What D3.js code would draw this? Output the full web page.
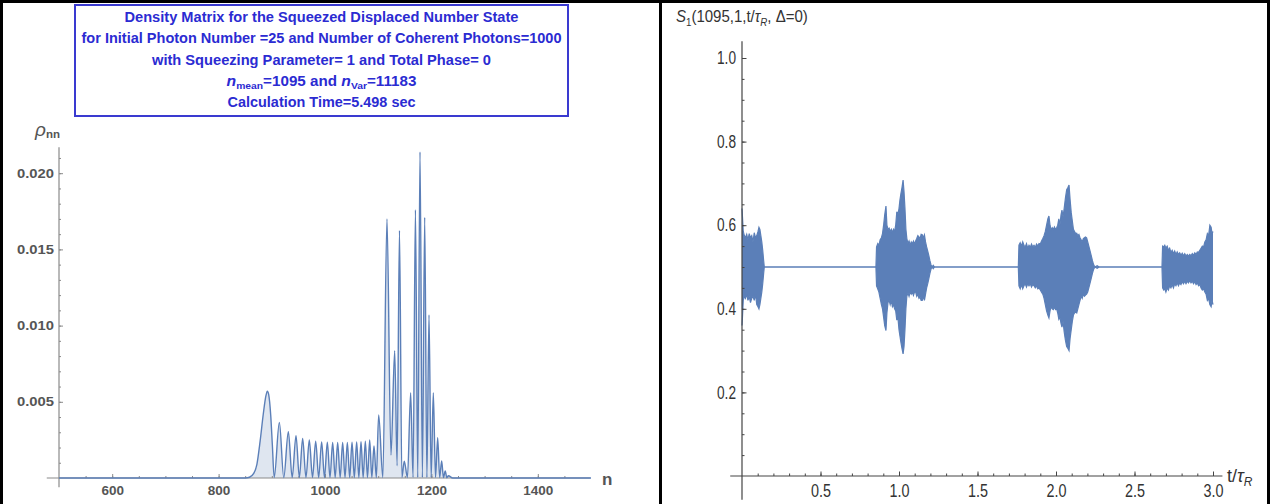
<!DOCTYPE html>
<html><head><meta charset="utf-8">
<script src="https://cdn.jsdelivr.net/npm/d3@7"></script>
<style>body{margin:0;background:#fff}svg{display:block}</style>
</head><body>
<svg id="c" width="1270" height="504"></svg>
<script>
// ---------- DATA ----------
const titleLines = [
  "Density Matrix for the Squeezed Displaced Number State",
  "for Initial Photon Number =25 and Number of Coherent Photons=1000",
  "with Squeezing Parameter= 1 and Total Phase= 0",
  "nmean=1095 and nVar=11183",
  "Calculation Time=5.498 sec"
];
// photon-number distribution rho_nn (peaks and troughs)
const rhoN = [500, 850, 858, 866, 872, 878, 884, 889, 891.6, 894, 898, 901, 904.5,
  914.2, 922.5, 931.1, 938.3, 945.5, 951.8, 958, 964.2, 970.5, 976.5, 982.5, 988.1, 993.7, 999,
  1004.4, 1009.4, 1014.4, 1019.1, 1023.8, 1028.5, 1033.2, 1037.6, 1042, 1046.4, 1050.8, 1055.1,
  1059.5, 1063.6, 1067.7, 1071.7, 1075.8, 1079.9, 1084, 1088, 1092.1, 1096.5, 1100.9,
  1108.7, 1116.5, 1124, 1131, 1135.5, 1140, 1144.5, 1149, 1155, 1161, 1165.5, 1170, 1174.3,
  1178.6, 1183, 1187.4, 1191.5, 1195.5, 1199.5, 1203.6, 1207.7, 1211.8, 1215.5, 1219.3,
  1222.6, 1226, 1229, 1232, 1240, 1500];
const rhoVal = [0, 0, 0.00005, 0.0003, 0.0009, 0.0024, 0.0042, 0.0054, 0.0057, 0.0055, 0.0041, 0.0022, 0.00003,
  0.00365, 0.00003, 0.00304, 0.00003, 0.00278, 0.00003, 0.0026, 0.00003, 0.00249, 0.00003, 0.00241, 0.00003, 0.00237, 0.00003,
  0.00235, 0.00003, 0.00234, 0.00003, 0.00234, 0.00003, 0.00234, 0.00003, 0.00234, 0.00003, 0.00235, 0.00003,
  0.00236, 0.00003, 0.00238, 0.00003, 0.00241, 0.00003, 0.00249, 0.00003, 0.0021, 0.00003, 0.00413,
  0.00003, 0.0170, 0.0015, 0.00835, 0.0008, 0.01625, 0.00003, 0.0011, 0.00003, 0.0056, 0.00003, 0.0176, 0.00003,
  0.0214, 0.00003, 0.0171, 0.00003, 0.0107, 0.00003, 0.0056, 0.00003, 0.00265, 0.00003, 0.00112,
  0.00003, 0.00046, 0.00002, 0.00015, 0, 0];
const leftXTicks = [600, 800, 1000, 1200, 1400];
const leftYTicks = [0.005, 0.010, 0.015, 0.020];
const leftYTickLabels = ["0.005", "0.010", "0.015", "0.020"];

// S1(t) oscillation envelope: [t, upper, lower]
const burstA = [[0,0.64,0.36],[0.003,0.62,0.38],[0.008,0.585,0.42],[0.015,0.575,0.43],[0.022,0.57,0.425],
  [0.03,0.578,0.435],[0.038,0.565,0.42],[0.046,0.58,0.43],[0.054,0.57,0.415],[0.062,0.575,0.425],
  [0.07,0.56,0.43],[0.078,0.582,0.42],[0.086,0.57,0.435],[0.094,0.575,0.41],[0.102,0.585,0.405],
  [0.108,0.595,0.40],[0.114,0.59,0.41],[0.12,0.575,0.425],[0.126,0.56,0.44],[0.132,0.54,0.46],
  [0.138,0.515,0.485],[0.142,0.5,0.5]];
const burstB = [[0.853,0.5,0.5],[0.857,0.548,0.455],[0.865,0.556,0.447],[0.872,0.552,0.44],[0.88,0.565,0.425],
  [0.888,0.57,0.41],[0.895,0.58,0.40],[0.902,0.60,0.38],[0.909,0.625,0.36],[0.917,0.646,0.348],
  [0.923,0.60,0.39],[0.93,0.59,0.415],[0.937,0.593,0.42],[0.944,0.585,0.41],[0.951,0.59,0.42],
  [0.958,0.582,0.405],[0.965,0.59,0.41],[0.972,0.585,0.40],[0.979,0.60,0.395],[0.986,0.632,0.373],
  [0.993,0.625,0.38],[1.0,0.64,0.35],[1.006,0.66,0.335],[1.012,0.675,0.32],[1.019,0.69,0.305],
  [1.026,0.708,0.292],[1.032,0.68,0.31],[1.038,0.64,0.35],[1.044,0.59,0.40],[1.05,0.568,0.43],
  [1.057,0.556,0.438],[1.064,0.562,0.43],[1.071,0.553,0.44],[1.078,0.56,0.435],[1.085,0.555,0.44],
  [1.092,0.562,0.432],[1.099,0.555,0.44],[1.106,0.562,0.44],[1.113,0.568,0.43],[1.12,0.575,0.435],
  [1.127,0.572,0.425],[1.134,0.567,0.428],[1.141,0.578,0.42],[1.148,0.577,0.42],[1.155,0.57,0.43],
  [1.162,0.577,0.42],[1.169,0.56,0.435],[1.176,0.548,0.45],[1.183,0.538,0.46],[1.19,0.527,0.472],
  [1.197,0.515,0.485],[1.204,0.505,0.495],[1.21,0.5,0.5],[1.218,0.504,0.496],[1.226,0.5,0.5]];
const burstC = [[1.76,0.5,0.5],[1.764,0.552,0.455],[1.772,0.558,0.448],[1.78,0.55,0.458],[1.788,0.56,0.448],
  [1.796,0.552,0.455],[1.804,0.548,0.46],[1.812,0.556,0.452],[1.82,0.545,0.46],[1.828,0.552,0.455],
  [1.836,0.547,0.46],[1.844,0.555,0.452],[1.852,0.548,0.458],[1.86,0.552,0.455],[1.868,0.547,0.45],
  [1.876,0.555,0.455],[1.884,0.55,0.448],[1.892,0.556,0.45],[1.9,0.555,0.445],[1.908,0.562,0.44],
  [1.916,0.568,0.435],[1.924,0.575,0.425],[1.932,0.585,0.41],[1.94,0.60,0.395],[1.948,0.615,0.385],
  [1.955,0.622,0.378],[1.962,0.60,0.395],[1.969,0.588,0.405],[1.976,0.594,0.40],[1.983,0.59,0.398],
  [1.99,0.596,0.404],[1.997,0.59,0.398],[2.004,0.594,0.40],[2.011,0.60,0.39],[2.018,0.615,0.375],
  [2.025,0.60,0.38],[2.032,0.625,0.365],[2.038,0.636,0.356],[2.045,0.62,0.37],[2.052,0.64,0.345],
  [2.06,0.665,0.325],[2.068,0.685,0.31],[2.076,0.69,0.305],[2.083,0.696,0.30],[2.09,0.66,0.33],
  [2.097,0.63,0.35],[2.104,0.61,0.37],[2.111,0.59,0.385],[2.118,0.585,0.39],[2.125,0.58,0.392],
  [2.132,0.581,0.39],[2.139,0.575,0.40],[2.146,0.578,0.41],[2.153,0.57,0.42],[2.16,0.565,0.43],
  [2.167,0.56,0.425],[2.174,0.568,0.435],[2.181,0.57,0.43],[2.188,0.572,0.433],[2.195,0.57,0.435],
  [2.202,0.56,0.44],[2.209,0.55,0.45],[2.216,0.54,0.46],[2.224,0.528,0.472],[2.232,0.515,0.485],
  [2.24,0.505,0.495],[2.248,0.5,0.5],[2.262,0.503,0.497],[2.275,0.5,0.5]];
const burstD = [[2.675,0.5,0.5],[2.679,0.55,0.45],[2.686,0.548,0.445],[2.693,0.552,0.448],[2.7,0.545,0.44],
  [2.708,0.55,0.45],[2.716,0.54,0.445],[2.724,0.545,0.455],[2.732,0.535,0.45],[2.74,0.54,0.458],
  [2.748,0.532,0.45],[2.756,0.538,0.46],[2.764,0.53,0.455],[2.772,0.536,0.462],[2.78,0.53,0.455],
  [2.788,0.534,0.462],[2.796,0.528,0.458],[2.804,0.533,0.465],[2.812,0.527,0.46],[2.82,0.532,0.466],
  [2.828,0.526,0.46],[2.836,0.53,0.466],[2.844,0.526,0.462],[2.852,0.53,0.468],[2.86,0.527,0.462],
  [2.868,0.532,0.466],[2.876,0.528,0.46],[2.884,0.534,0.465],[2.892,0.53,0.458],[2.9,0.536,0.462],
  [2.908,0.535,0.455],[2.916,0.54,0.458],[2.924,0.545,0.45],[2.932,0.55,0.445],[2.94,0.548,0.448],
  [2.948,0.56,0.44],[2.956,0.565,0.435],[2.964,0.58,0.42],[2.972,0.575,0.425],[2.98,0.60,0.41],
  [2.988,0.595,0.405],[2.994,0.58,0.42],[3.0,0.585,0.41]];
const rightXTicks = [0.5, 1.0, 1.5, 2.0, 2.5, 3.0];
const rightYTicks = [0.2, 0.4, 0.6, 0.8, 1.0];

// ---------- DRAW ----------
const svg = d3.select("#c");
const blue = "#5b7fb8";
const narrow = "'Liberation Sans Narrow','Arial Narrow','Liberation Sans',Arial,sans-serif";
const sans = "'Liberation Sans',Arial,sans-serif";

// frame lines
svg.append("rect").attr("x",0).attr("y",0).attr("width",1270).attr("height",3).attr("fill","#000");
svg.append("rect").attr("x",0).attr("y",0).attr("width",3).attr("height",504).attr("fill","#000");
svg.append("rect").attr("x",659).attr("y",0).attr("width",3).attr("height",504).attr("fill","#000");
svg.append("rect").attr("x",1267).attr("y",0).attr("width",3).attr("height",504).attr("fill","#000");

// ===== LEFT PANEL =====
const xL = d3.scaleLinear().domain([500, 1400]).range([59, 537.8]);
const yL = d3.scaleLinear().domain([0, 0.02]).range([478, 173.2]);
const rho = rhoN.map((n, i) => ({n, v: rhoVal[i]})).filter(d => d.v !== undefined);

const gL = svg.append("g");
gL.append("path").datum(rho)
  .attr("d", d3.area().x(d => xL(d.n)).y0(yL(0)).y1(d => yL(d.v)).curve(d3.curveMonotoneX))
  .attr("fill", "rgba(94,129,181,0.2)");

const axCol = "#8a8a8a";
gL.append("line").attr("x1", xL(477)).attr("x2", xL(1498)).attr("y1", yL(0)).attr("y2", yL(0))
  .attr("stroke", axCol).attr("stroke-width", 1.2);
gL.append("line").attr("x1", xL(500)).attr("x2", xL(500)).attr("y1", yL(0.0217)).attr("y2", yL(-0.0006))
  .attr("stroke", axCol).attr("stroke-width", 1.2);

function styleAxis(g, col){ g.select(".domain").remove(); g.selectAll("line").attr("stroke", col); }
const lxMinor = gL.append("g").attr("transform", `translate(0,${yL(0)})`)
  .call(d3.axisBottom(xL).tickValues(d3.range(550, 1500, 50)).tickSizeInner(-2).tickSizeOuter(0).tickFormat(""));
styleAxis(lxMinor, axCol);
const lxMajor = gL.append("g").attr("transform", `translate(0,${yL(0)})`)
  .call(d3.axisBottom(xL).tickValues(leftXTicks).tickSizeInner(-4).tickSizeOuter(0).tickPadding(7).tickFormat(d3.format("d")));
styleAxis(lxMajor, axCol);
lxMajor.selectAll("text").attr("font-family", sans).attr("font-weight", "bold").attr("font-size", 13.5).attr("fill", "#555");

const lyMinor = gL.append("g").attr("transform", `translate(${xL(500)},0)`)
  .call(d3.axisLeft(yL).tickValues(d3.range(0.001, 0.0215, 0.001)).tickSizeInner(-2).tickSizeOuter(0).tickFormat(""));
styleAxis(lyMinor, axCol);
const lyMajor = gL.append("g").attr("transform", `translate(${xL(500)},0)`)
  .call(d3.axisLeft(yL).tickValues(leftYTicks).tickSizeInner(-4).tickSizeOuter(0).tickPadding(5)
    .tickFormat((d, i) => leftYTickLabels[i]));
styleAxis(lyMajor, axCol);
lyMajor.selectAll("text").attr("font-family", sans).attr("font-weight", "bold").attr("font-size", 13)
  .attr("fill", "#555").attr("textLength", 37).attr("lengthAdjust", "spacingAndGlyphs");

gL.append("path").datum(rho)
  .attr("d", d3.line().x(d => xL(d.n)).y(d => yL(d.v)).curve(d3.curveMonotoneX))
  .attr("fill", "none").attr("stroke", blue).attr("stroke-width", 1.4);

const rl = gL.append("text").attr("x", 35).attr("y", 136).attr("fill", "#555").attr("font-family", sans);
rl.append("tspan").attr("font-style", "italic").attr("font-size", 19).text("ρ");
rl.append("tspan").attr("font-size", 11.5).attr("font-weight", "bold").attr("dy", 2).text("nn");
gL.append("text").attr("x", 602).attr("y", 485).attr("fill", "#555").attr("font-family", sans)
  .attr("font-weight", "bold").attr("font-size", 17).text("n");

// title box
const tCol = "#2b2bd2";
gL.append("rect").attr("x", 75).attr("y", 5).attr("width", 493).attr("height", 111)
  .attr("fill", "#fff").attr("stroke", "#3a3ad0").attr("stroke-width", 2);
const tBase = [21.5, 43, 65, 86.5, 107];
const tWidth = [394, 480, 339, 190, 188];
titleLines.forEach((s, i) => {
  const t = gL.append("text").attr("x", 321.5).attr("y", tBase[i]).attr("text-anchor", "middle")
    .attr("font-family", sans).attr("font-weight", "bold").attr("font-size", 14).attr("fill", tCol);
  if (i === 3) {
    t.append("tspan").attr("font-style", "italic").attr("font-size", 14.5).text("n");
    t.append("tspan").attr("font-size", 9.5).attr("dy", 3).text("mean");
    t.append("tspan").attr("dy", -3).text("=1095 and ");
    t.append("tspan").attr("font-style", "italic").attr("font-size", 14.5).text("n");
    t.append("tspan").attr("font-size", 9.5).attr("dy", 3).text("Var");
    t.append("tspan").attr("dy", -3).text("=11183");
    const w = t.node().getComputedTextLength();
    t.attr("transform", `translate(321.5,0) scale(${tWidth[i] / w},1) translate(-321.5,0)`);
  } else {
    t.text(s).attr("textLength", tWidth[i]).attr("lengthAdjust", "spacingAndGlyphs");
  }
});

// ===== RIGHT PANEL =====
const xR = d3.scaleLinear().domain([0, 3]).range([742, 1213]);
const yR = d3.scaleLinear().domain([0, 1]).range([476, 58]);
const sig = [...burstA, ...burstB, ...burstC, ...burstD].map(r => ({t: r[0], u: r[1], l: r[2]}));
const gR = svg.append("g");
gR.append("path").datum(sig)
  .attr("d", d3.area().x(d => xR(d.t)).y0(d => yR(d.l)).y1(d => yR(d.u)))
  .attr("fill", blue);
gR.append("path").datum(sig).attr("d", d3.line().x(d => xR(d.t)).y(d => yR(d.u)))
  .attr("fill", "none").attr("stroke", blue).attr("stroke-width", 1.2);
gR.append("path").datum(sig).attr("d", d3.line().x(d => xR(d.t)).y(d => yR(d.l)))
  .attr("fill", "none").attr("stroke", blue).attr("stroke-width", 1.2);

const axR = "#444";
gR.append("line").attr("x1", xR(-0.075)).attr("x2", xR(3.06)).attr("y1", yR(0)).attr("y2", yR(0))
  .attr("stroke", axR).attr("stroke-width", 1.2);
gR.append("line").attr("x1", xR(0)).attr("x2", xR(0)).attr("y1", yR(1.04)).attr("y2", yR(-0.057))
  .attr("stroke", axR).attr("stroke-width", 1.2);
const rxMinor = gR.append("g").attr("transform", `translate(0,${yR(0)})`)
  .call(d3.axisBottom(xR).tickValues(d3.range(0.1, 3.05, 0.1)).tickSizeInner(-2.5).tickSizeOuter(0).tickFormat(""));
styleAxis(rxMinor, axR);
const rxMajor = gR.append("g").attr("transform", `translate(0,${yR(0)})`)
  .call(d3.axisBottom(xR).tickValues(rightXTicks).tickSizeInner(-4.5).tickSizeOuter(0).tickPadding(8).tickFormat(d3.format(".1f")));
styleAxis(rxMajor, axR);
rxMajor.selectAll("text").attr("font-family", narrow).attr("font-size", 18).attr("fill", "#333")
  .attr("textLength", 20).attr("lengthAdjust", "spacingAndGlyphs");
const ryMinor = gR.append("g").attr("transform", `translate(${xR(0)},0)`)
  .call(d3.axisLeft(yR).tickValues(d3.range(0.05, 1.01, 0.05)).tickSizeInner(-2.5).tickSizeOuter(0).tickFormat(""));
styleAxis(ryMinor, axR);
const ryMajor = gR.append("g").attr("transform", `translate(${xR(0)},0)`)
  .call(d3.axisLeft(yR).tickValues(rightYTicks).tickSizeInner(-4.5).tickSizeOuter(0).tickPadding(6).tickFormat(d3.format(".1f")));
styleAxis(ryMajor, axR);
ryMajor.selectAll("text").attr("font-family", narrow).attr("font-size", 18).attr("fill", "#333")
  .attr("textLength", 19).attr("lengthAdjust", "spacingAndGlyphs");

const s1 = gR.append("text").attr("x", 676).attr("y", 22).attr("fill", "#333").attr("font-family", narrow).attr("font-size", 17);
s1.append("tspan").attr("font-style", "italic").text("S");
s1.append("tspan").attr("font-size", 11).attr("dy", 4).text("1");
s1.append("tspan").attr("dy", -4).text("(1095,1,t/");
s1.append("tspan").attr("font-style", "italic").text("τ");
s1.append("tspan").attr("font-size", 11).attr("font-style", "italic").attr("dy", 4).text("R");
s1.append("tspan").attr("dy", -4).text(", Δ=0)");
{
  const w = s1.node().getComputedTextLength();
  s1.attr("transform", `translate(676,0) scale(${132 / w},1) translate(-676,0)`);
}
const tl = gR.append("text").attr("x", 1227).attr("y", 482).attr("fill", "#333").attr("font-family", narrow).attr("font-size", 18);
tl.append("tspan").text("t/");
tl.append("tspan").attr("font-style", "italic").text("τ");
tl.append("tspan").attr("font-size", 12).attr("font-style", "italic").attr("dy", 4).text("R");
</script>
</body></html>
